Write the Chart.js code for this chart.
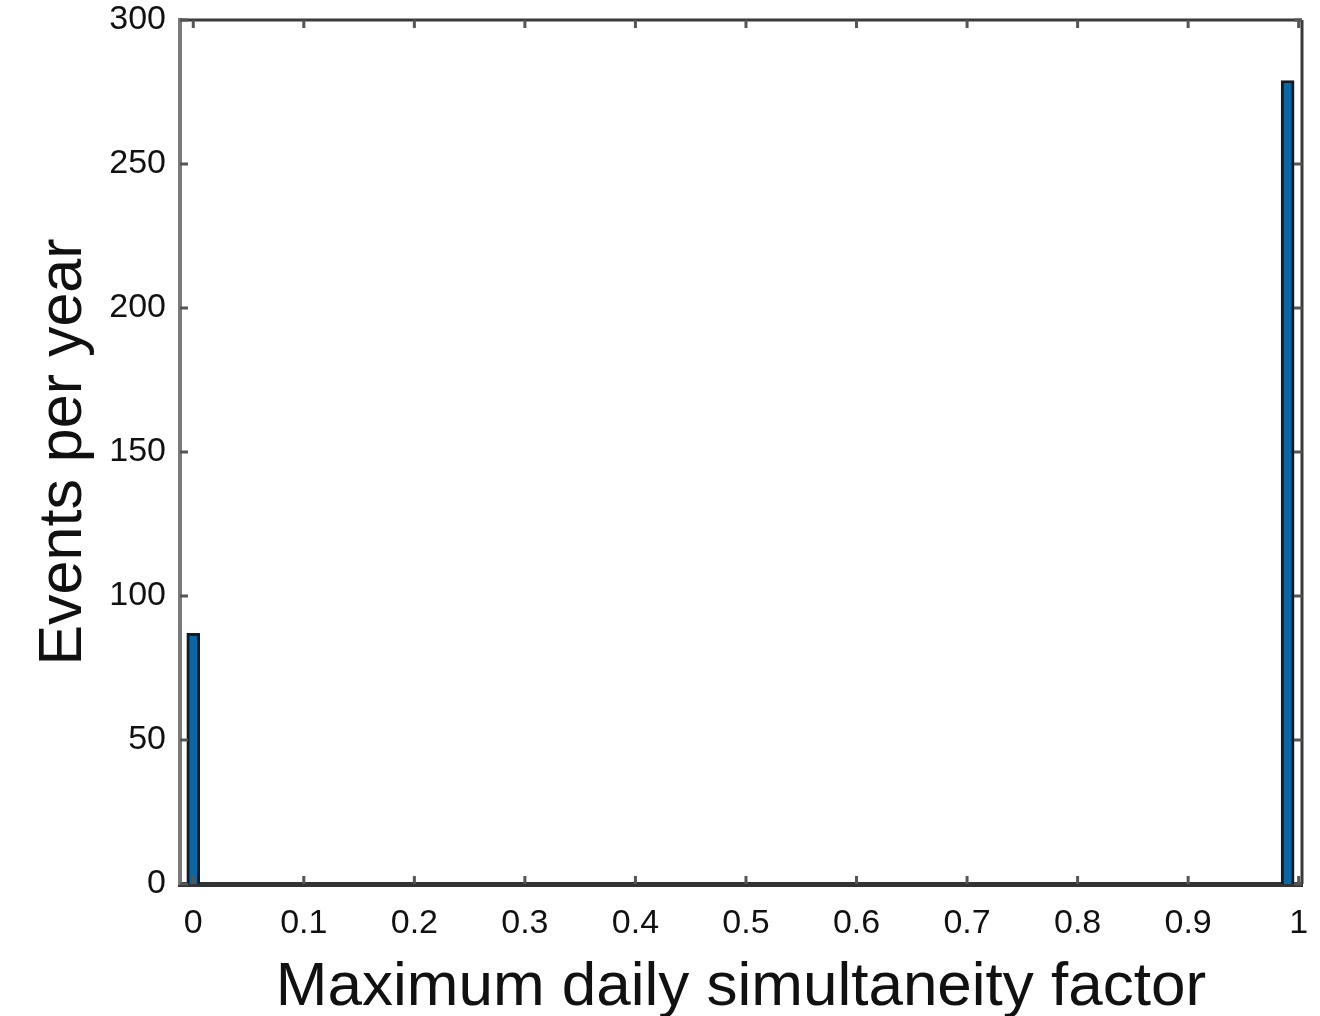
<!DOCTYPE html>
<html>
<head>
<meta charset="utf-8">
<script src="https://cdn.jsdelivr.net/npm/chart.js@4.4.1/dist/chart.umd.min.js"></script>
<style>
  html, body { margin: 0; padding: 0; background: #fff; }
  #wrap { width: 1320px; height: 1016px; }
</style>
</head>
<body>
<div id="wrap"><canvas id="chart-hist"></canvas></div>
<script>
(function () {
  // histogram bin centres that hold events, and their counts
  var binCenters = [0, 0.99];
  var eventsPerYear = [87, 279];

  var xTicks = [0, 0.1, 0.2, 0.3, 0.4, 0.5, 0.6, 0.7, 0.8, 0.9, 1];
  var yTicks = [0, 50, 100, 150, 200, 250, 300];

  var fontFamily = '"Liberation Sans", Arial, sans-serif';

  // inward tick marks on all four sides plus the top/right frame
  var frame = {
    id: 'frame',
    afterDraw: function (chart) {
      var c = chart.ctx;
      var a = chart.chartArea;
      var xs = chart.scales.x;
      var ys = chart.scales.y;
      c.save();
      c.strokeStyle = '#3a3a3a';
      c.lineWidth = 3;
      c.beginPath();
      c.moveTo(a.left, a.top);
      c.lineTo(a.right, a.top);
      c.moveTo(a.right, a.top);
      c.lineTo(a.right, a.bottom);
      c.stroke();
      c.strokeStyle = '#555';
      c.lineWidth = 3;
      c.beginPath();
      xTicks.forEach(function (v) {
        var px = xs.getPixelForValue(v);
        c.moveTo(px, a.bottom);
        c.lineTo(px, a.bottom - 8);
        c.moveTo(px, a.top);
        c.lineTo(px, a.top + 8);
      });
      yTicks.forEach(function (v) {
        var py = ys.getPixelForValue(v);
        c.moveTo(a.left, py);
        c.lineTo(a.left + 8, py);
        c.moveTo(a.right, py);
        c.lineTo(a.right - 8, py);
      });
      c.stroke();
      c.restore();
    },
  };

  new Chart(document.getElementById('chart-hist'), {
    type: 'bar',
    data: {
      datasets: [
        {
          label: 'Events per year',
          data: binCenters.map(function (x, i) {
            return { x: x, y: eventsPerYear[i] };
          }),
          backgroundColor: '#0a68a6',
          borderColor: '#101c26',
          borderWidth: 3,
          barThickness: 13,
        },
      ],
    },
    options: {
      responsive: true,
      maintainAspectRatio: false,
      animation: false,
      layout: { padding: { top: 20, right: 18, left: 0, bottom: 0 } },
      plugins: { legend: { display: false }, tooltip: { enabled: false } },
      scales: {
        x: {
          type: 'linear',
          offset: false,
          min: -0.012,
          max: 1.003,
          afterBuildTicks: function (scale) {
            scale.ticks = xTicks.map(function (v) { return { value: v }; });
          },
          afterFit: function (scale) {
            scale.height = 132;
            scale.paddingLeft = 0;
            scale.paddingRight = 0;
          },
          ticks: {
            color: '#111',
            padding: 19,
            maxRotation: 0,
            font: { family: fontFamily, size: 34 },
            callback: function (v) { return String(Number(v.toFixed(1))); },
          },
          grid: { display: false, drawTicks: false },
          border: { color: '#333', width: 5 },
          title: {
            display: true,
            text: 'Maximum daily simultaneity factor',
            color: '#111',
            font: { family: fontFamily, size: 62 },
            padding: { top: 0, bottom: -9 },
          },
        },
        y: {
          min: 0,
          max: 300,
          afterBuildTicks: function (scale) {
            scale.ticks = yTicks.map(function (v) { return { value: v }; });
          },
          afterFit: function (scale) {
            scale.width = 180;
            scale.paddingTop = 0;
            scale.paddingBottom = 0;
          },
          ticks: {
            color: '#111',
            padding: 14,
            font: { family: fontFamily, size: 34 },
          },
          grid: { display: false, drawTicks: false },
          border: { color: '#7a7a7a', width: 4 },
          title: {
            display: true,
            text: 'Events per year',
            color: '#111',
            font: { family: fontFamily, size: 61 },
            padding: { top: 28, bottom: 0 },
          },
        },
      },
    },
    plugins: [frame],
  });
})();
</script>
</body>
</html>
